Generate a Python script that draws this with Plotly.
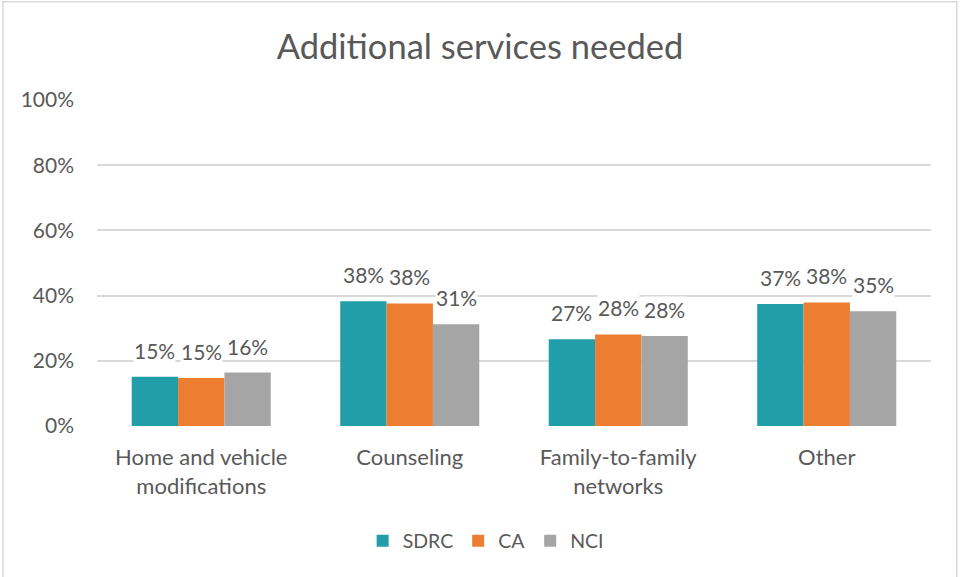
import plotly.graph_objects as go

# Share of respondents who reported needing each additional service
categories = ["Home and vehicle<br>modifications", "Counseling",
              "Family-to-family<br>networks", "Other"]
series_names = ["SDRC", "CA", "NCI"]
sdrc = [0.151, 0.383, 0.266, 0.374]
ca = [0.147, 0.376, 0.281, 0.379]
nci = [0.164, 0.312, 0.276, 0.352]
y_ticks = [0, 0.2, 0.4, 0.6, 0.8, 1.0]

colors = ["#229EA8", "#ED7D31", "#A5A5A5"]
text_color = "#595959"
font_family = "Lato, 'Open Sans', sans-serif"

series_values = [sdrc, ca, nci]
bargap = 0.333
bar_w = (1 - bargap) / len(series_names)

fig = go.Figure()
for name, vals, col in zip(series_names, series_values, colors):
    fig.add_trace(go.Bar(
        name=name, x=categories, y=vals,
        marker=dict(color=col, line=dict(width=0)),
    ))

# value labels above each bar, on a white box so they sit over the gridlines
annotations = []
for si, vals in enumerate(series_values):
    for ci, v in enumerate(vals):
        annotations.append(dict(
            x=ci + (si - (len(series_names) - 1) / 2) * bar_w,
            y=v, xref="x", yref="y",
            text=f"{v:.0%}",
            showarrow=False, yanchor="bottom", yshift=13,
            bgcolor="white", borderpad=0,
            font=dict(size=21, color=text_color, family=font_family),
        ))

fig.update_layout(
    width=960, height=577,
    margin=dict(l=97, r=29, t=100, b=151),
    paper_bgcolor="white", plot_bgcolor="white",
    barmode="group", bargap=bargap, bargroupgap=0,
    title=dict(text="Additional services needed", x=0.5, xanchor="center",
               y=0.918, yanchor="middle",
               font=dict(size=34.5, color=text_color, family=font_family)),
    font=dict(family=font_family, color=text_color),
    xaxis=dict(showgrid=False, showline=False, ticks="", zeroline=False,
               ticklabelstandoff=16,
               tickfont=dict(size=22, color=text_color)),
    yaxis=dict(range=[0, 1], tickvals=y_ticks, tickformat=".0%",
               showgrid=True, gridcolor="#D9D9D9", gridwidth=1.5,
               zeroline=False, showline=False, ticks="",
               ticklabelstandoff=22,
               tickfont=dict(size=21, color=text_color)),
    legend=dict(orientation="h", x=0.466, xanchor="center",
                y=-0.353, yanchor="middle",
                font=dict(size=19.5, color=text_color),
                itemwidth=30, traceorder="normal"),
    annotations=annotations,
    shapes=[dict(type="rect", xref="paper", yref="paper",
                 x0=-0.1127, x1=1.031, y0=-0.6, y1=1.301,
                 line=dict(color="#D9D9D9", width=1.5), layer="below")],
)

fig.write_html("out.html")
